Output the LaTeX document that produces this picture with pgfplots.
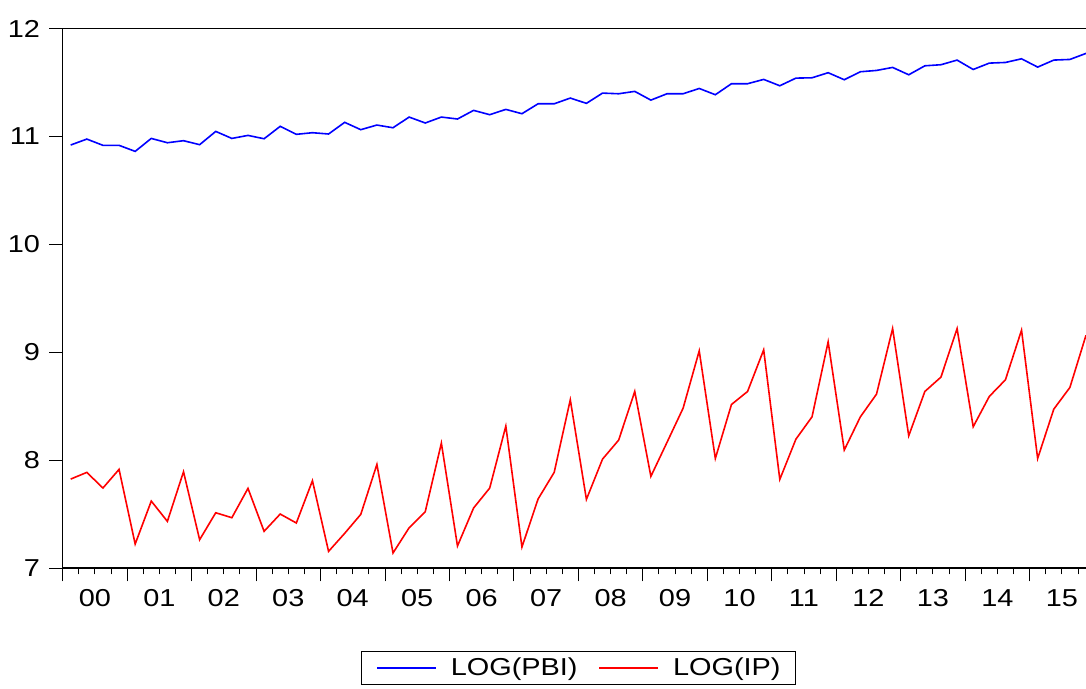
\documentclass[border=0pt]{standalone}
\usepackage{pgfplots}
\pgfplotsset{compat=1.18}
\usepackage{pgfplotstable}
\usepackage{fontspec}
\setmainfont{Liberation Sans}[FakeStretch=1.18]

\pgfplotstableread{
x pbi ip
0.5 10.920 7.824
1.5 10.975 7.886
2.5 10.917 7.741
3.5 10.917 7.914
4.5 10.861 7.222
5.5 10.981 7.620
6.5 10.941 7.432
7.5 10.960 7.892
8.5 10.923 7.262
9.5 11.046 7.512
10.5 10.981 7.466
11.5 11.009 7.738
12.5 10.978 7.340
13.5 11.093 7.500
14.5 11.019 7.417
15.5 11.034 7.809
16.5 11.022 7.154
17.5 11.130 7.321
18.5 11.062 7.497
19.5 11.105 7.960
20.5 11.080 7.139
21.5 11.179 7.373
22.5 11.124 7.522
23.5 11.179 8.157
24.5 11.161 7.204
25.5 11.241 7.556
26.5 11.201 7.741
27.5 11.250 8.315
28.5 11.210 7.194
29.5 11.302 7.639
30.5 11.302 7.886
31.5 11.355 8.559
32.5 11.306 7.636
33.5 11.401 8.009
34.5 11.395 8.185
35.5 11.417 8.636
36.5 11.336 7.849
37.5 11.395 8.164
38.5 11.395 8.481
39.5 11.444 9.012
40.5 11.386 8.015
41.5 11.488 8.515
42.5 11.488 8.636
43.5 11.528 9.022
44.5 11.469 7.821
45.5 11.540 8.194
46.5 11.543 8.401
47.5 11.590 9.096
48.5 11.525 8.093
49.5 11.599 8.401
50.5 11.611 8.611
51.5 11.639 9.219
52.5 11.571 8.225
53.5 11.654 8.636
54.5 11.664 8.769
55.5 11.707 9.219
56.5 11.620 8.309
57.5 11.679 8.590
58.5 11.685 8.744
59.5 11.719 9.204
60.5 11.642 8.015
61.5 11.707 8.472
62.5 11.713 8.673
63.5 11.769 9.157
}\datatable

\begin{document}
\begin{tikzpicture}
\begin{axis}[
  scale only axis,
  width=1024.3pt, height=540pt,
  xmin=0, xmax=63.5, ymin=7, ymax=12,
  axis y line*=left,
  axis line style={line width=1.3pt, black},
  every tick/.style={black, line width=0.9pt},
  tick align=outside,
  major tick length=13.5pt,
  minor tick length=6.5pt,
  xtick={0,4,...,60},
  xticklabels={},
  minor xtick={1,2,...,63},
  xtick pos=left,
  extra x ticks={2,6,...,62},
  extra x tick labels={00,01,02,03,04,05,06,07,08,09,10,11,12,13,14,15},
  extra x tick style={major tick length=0pt},
  ytick={7,8,...,12},
  ytick pos=left,
  /pgf/number format/assume math mode=true,
  tick label style={font=\fontsize{24.5}{28}\selectfont},
  xticklabel style={inner sep=0pt, anchor=north, yshift=-21pt},
  yticklabel style={inner sep=0pt, anchor=east, xshift=-9pt},
  legend columns=2,
  legend style={
    at={(0.504,0)}, anchor=north, yshift=-82.7pt,
    draw=black, line width=1.1pt,
    inner xsep=15pt, inner ysep=7pt,
    font=\fontsize{24.5}{28}\selectfont,
    nodes={inner sep=0pt},
    /tikz/every odd column/.append style={column sep=14pt},
    /tikz/every even column/.append style={column sep=21pt},
  },
]
\addplot[blue, line width=1.6pt, mark=none,
  legend image code/.code={\draw[blue, line width=1.6pt] (0pt,0pt) -- (59pt,0pt);}]
  table[x=x, y=pbi] {\datatable};
\addlegendentry{LOG(PBI)}
\addplot[red, line width=1.6pt, mark=none,
  legend image code/.code={\draw[red, line width=1.6pt] (0pt,0pt) -- (59pt,0pt);}]
  table[x=x, y=ip] {\datatable};
\addlegendentry{LOG(IP)}
\coordinate (sw) at (rel axis cs:0,0);
\coordinate (ne) at (rel axis cs:1,1);
\end{axis}
\pgfresetboundingbox
\useasboundingbox ([xshift=-62.7pt,yshift=-121pt]sw) rectangle ([yshift=28.5pt]ne);
\end{tikzpicture}
\end{document}
